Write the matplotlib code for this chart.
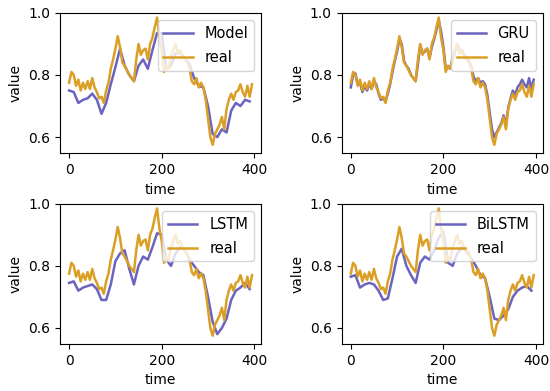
import numpy as np
import matplotlib
matplotlib.use("Agg")
import matplotlib.pyplot as plt

# time axes (values read every 5 / 10 steps from the reference)
time_fine = np.arange(0, 400, 5)
time_coarse = np.arange(0, 400, 10)

real = [0.775, 0.81, 0.80, 0.765, 0.785, 0.75, 0.775, 0.755, 0.78, 0.755,
        0.79, 0.76, 0.745, 0.725, 0.73, 0.71, 0.75, 0.775, 0.82, 0.85,
        0.885, 0.925, 0.89, 0.84, 0.83, 0.815, 0.80, 0.79, 0.78, 0.85,
        0.90, 0.865, 0.88, 0.885, 0.85, 0.90, 0.92, 0.955, 0.985, 0.92,
        0.88, 0.81, 0.83, 0.82, 0.86, 0.88, 0.90, 0.87, 0.88, 0.86,
        0.85, 0.84, 0.82, 0.78, 0.77, 0.79, 0.76, 0.775, 0.76, 0.72,
        0.66, 0.60, 0.575, 0.61, 0.625, 0.64, 0.665, 0.625, 0.69, 0.72,
        0.74, 0.72, 0.745, 0.75, 0.77, 0.745, 0.73, 0.765, 0.73, 0.77]

gru = [0.76, 0.80, 0.805, 0.77, 0.775, 0.745, 0.765, 0.75, 0.77, 0.755,
       0.78, 0.77, 0.74, 0.72, 0.725, 0.715, 0.74, 0.77, 0.81, 0.845,
       0.875, 0.915, 0.90, 0.845, 0.83, 0.82, 0.80, 0.79, 0.78, 0.835,
       0.895, 0.87, 0.875, 0.885, 0.855, 0.89, 0.915, 0.945, 0.975, 0.94,
       0.89, 0.82, 0.825, 0.82, 0.85, 0.875, 0.90, 0.88, 0.88, 0.865,
       0.855, 0.845, 0.83, 0.795, 0.78, 0.79, 0.775, 0.78, 0.77, 0.735,
       0.68, 0.625, 0.60, 0.615, 0.63, 0.645, 0.67, 0.64, 0.695, 0.725,
       0.75, 0.735, 0.76, 0.77, 0.785, 0.77, 0.76, 0.79, 0.755, 0.785]

model = [0.75, 0.745, 0.71, 0.72, 0.725, 0.74, 0.72, 0.675, 0.71, 0.77,
         0.825, 0.885, 0.83, 0.80, 0.78, 0.83, 0.85, 0.82, 0.88, 0.935,
         0.935, 0.82, 0.83, 0.87, 0.87, 0.855, 0.835, 0.79, 0.765, 0.76,
         0.70, 0.61, 0.60, 0.625, 0.615, 0.685, 0.71, 0.70, 0.72, 0.715]

lstm = [0.745, 0.75, 0.72, 0.73, 0.735, 0.74, 0.725, 0.69, 0.69, 0.74,
        0.815, 0.84, 0.85, 0.79, 0.74, 0.80, 0.83, 0.82, 0.86, 0.905,
        0.90, 0.82, 0.80, 0.84, 0.86, 0.85, 0.82, 0.80, 0.78, 0.77,
        0.70, 0.62, 0.58, 0.60, 0.63, 0.69, 0.72, 0.73, 0.745, 0.725]

bilstm = [0.765, 0.77, 0.73, 0.74, 0.745, 0.74, 0.72, 0.69, 0.695, 0.76,
          0.83, 0.855, 0.80, 0.77, 0.745, 0.81, 0.83, 0.82, 0.85, 0.89,
          0.91, 0.81, 0.80, 0.84, 0.86, 0.845, 0.825, 0.80, 0.77, 0.76,
          0.70, 0.63, 0.625, 0.64, 0.66, 0.70, 0.72, 0.73, 0.735, 0.72]

panels = [("Model", model), ("GRU", gru), ("LSTM", lstm), ("BiLSTM", bilstm)]

model_color = '#6a64c0'
real_color = '#dc9f25'

fig, axes = plt.subplots(2, 2, figsize=(5.5, 3.91), dpi=100)
fig.subplots_adjust(left=0.109, right=0.987, top=0.967, bottom=0.12,
                    wspace=0.40, hspace=0.36)

for ax, (name, pred) in zip(axes.flat, panels):
    ax.plot(time_coarse if len(pred) == 40 else time_fine, pred,
            color=model_color, lw=1.8, label=name)
    ax.plot(time_fine, real, color=real_color, lw=1.8, label='real')
    ax.set_xlabel('time')
    ax.set_ylabel('value')
    ax.set_xticks([0, 200, 400])
    ax.set_yticks([0.6, 0.8, 1.0])
    ax.set_ylim(0.548, 1.0)
    ax.legend(loc='upper right', fontsize=10.5, labelspacing=0.6)

fig.savefig('out.png', dpi=100)
